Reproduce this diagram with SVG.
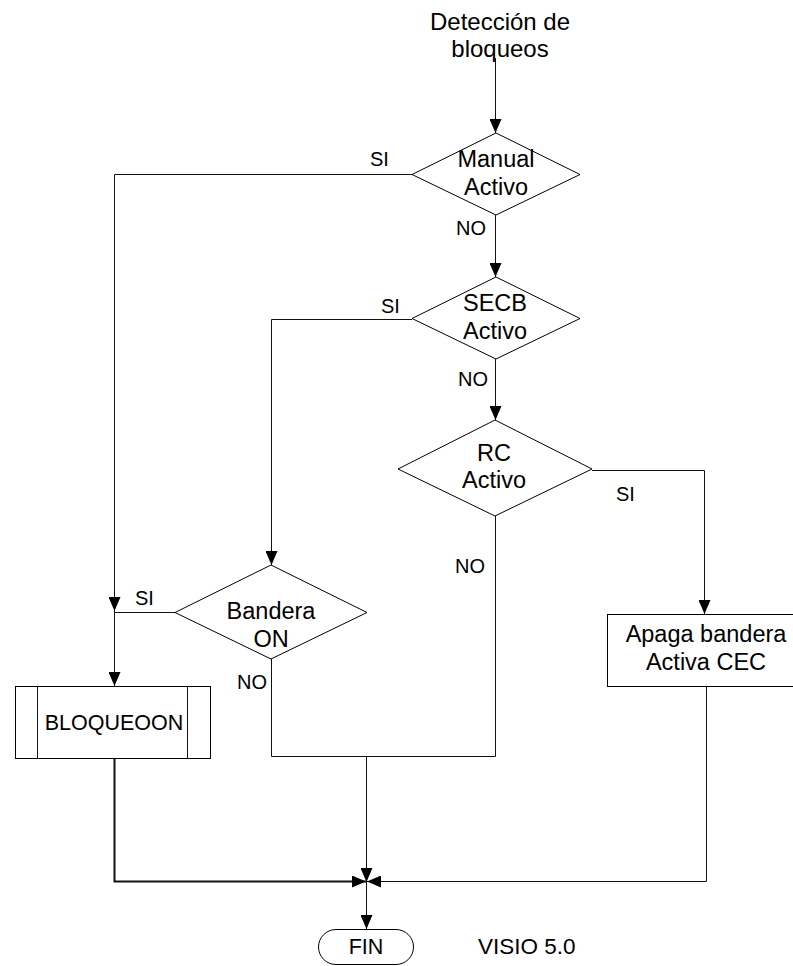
<svg xmlns="http://www.w3.org/2000/svg" width="793" height="966" viewBox="0 0 793 966">
<style>
  text { font-family: "Liberation Sans", Arial, sans-serif; fill: #000; }
  .t { font-size: 23.5px; text-anchor: middle; }
  .lbl { font-size: 20px; }
  .shape { fill: #fff; stroke: #000; stroke-width: 1; }
  .ln { fill: none; stroke: #111; stroke-width: 1; }
  .thick { fill: none; stroke: #111; stroke-width: 2; }
</style>
<defs>
  <marker id="arr" viewBox="0 0 14 12" refX="14" refY="6" markerWidth="14" markerHeight="12" markerUnits="userSpaceOnUse" orient="auto">
    <path d="M0,0 L14,6 L0,12 Z" fill="#000"/>
  </marker>
</defs>
<rect width="793" height="966" fill="#fff"/>

<g id="connectors">
  <path class="ln" d="M495.5,58 V133" marker-end="url(#arr)"/>
  <path class="ln" d="M412,174.5 H114.5 V611" marker-end="url(#arr)"/>
  <path class="ln" d="M114.5,611 V686" marker-end="url(#arr)"/>
  <path class="ln" d="M175,612.5 H114.5"/>
  <path class="ln" d="M495.5,215 V277" marker-end="url(#arr)"/>
  <path class="ln" d="M412,319.5 H271.5 V565" marker-end="url(#arr)"/>
  <path class="ln" d="M495.5,359 V420" marker-end="url(#arr)"/>
  <path class="ln" d="M592,470.5 H704.5 V614" marker-end="url(#arr)"/>
  <path class="ln" d="M495.5,516 V756.5 H271.5 V659"/>
  <path class="ln" d="M366.5,756.5 V882" marker-end="url(#arr)"/>
  <path class="thick" d="M114.5,758 V881.5 H366" marker-end="url(#arr)"/>
  <path class="ln" d="M706.5,686 V881.5 H367" marker-end="url(#arr)"/>
  <path class="ln" d="M366.5,882 V929" marker-end="url(#arr)"/>
</g>

<g id="title">
  <text class="t" x="500" y="30" style="font-size:24px">Detección de</text>
  <text class="t" x="500" y="57" style="font-size:24px">bloqueos</text>
</g>

<g id="manual">
  <polygon class="shape" points="496,133 580,174.5 496,215 412,174.5"/>
  <text class="t" x="496" y="167">Manual</text>
  <text class="t" x="496" y="195">Activo</text>
</g>

<g id="secb">
  <polygon class="shape" points="496,277 580,318.5 496,359 412,318.5"/>
  <text class="t" x="495" y="311">SECB</text>
  <text class="t" x="495" y="339">Activo</text>
</g>

<g id="rc">
  <polygon class="shape" points="495,420 592,469 495,516 398,469"/>
  <text class="t" x="494" y="461">RC</text>
  <text class="t" x="494" y="488">Activo</text>
</g>

<g id="bandera">
  <polygon class="shape" points="271,565 367,612.5 271,659 175,612.5"/>
  <text class="t" x="271" y="619">Bandera</text>
  <text class="t" x="271" y="647">ON</text>
</g>

<g id="bloqueoon">
  <rect class="shape" x="15.5" y="686.5" width="195" height="72"/>
  <line class="ln" x1="37.5" y1="686.5" x2="37.5" y2="758.5" stroke="#555"/>
  <line class="ln" x1="187.5" y1="686.5" x2="187.5" y2="758.5" stroke="#555"/>
  <text x="114" y="730" style="font-size:21.5px" text-anchor="middle">BLOQUEOON</text>
</g>

<g id="apaga">
  <rect class="shape" x="607.5" y="614.5" width="200" height="72"/>
  <text class="t" x="706" y="642">Apaga bandera</text>
  <text class="t" x="706" y="670">Activa CEC</text>
</g>

<g id="fin">
  <rect class="shape" x="318.5" y="929.5" width="95" height="35" rx="17.5" ry="17.5"/>
  <text x="366" y="954" style="font-size:21.5px" text-anchor="middle">FIN</text>
</g>

<g id="labels">
  <text class="lbl" x="370" y="166">SI</text>
  <text class="lbl" x="456" y="235">NO</text>
  <text class="lbl" x="381" y="313">SI</text>
  <text class="lbl" x="458" y="386">NO</text>
  <text class="lbl" x="616" y="501">SI</text>
  <text class="lbl" x="455" y="573">NO</text>
  <text class="lbl" x="135" y="605">SI</text>
  <text class="lbl" x="237" y="689">NO</text>
  <text x="478" y="954" style="font-size:22.5px">VISIO 5.0</text>
</g>
</svg>
